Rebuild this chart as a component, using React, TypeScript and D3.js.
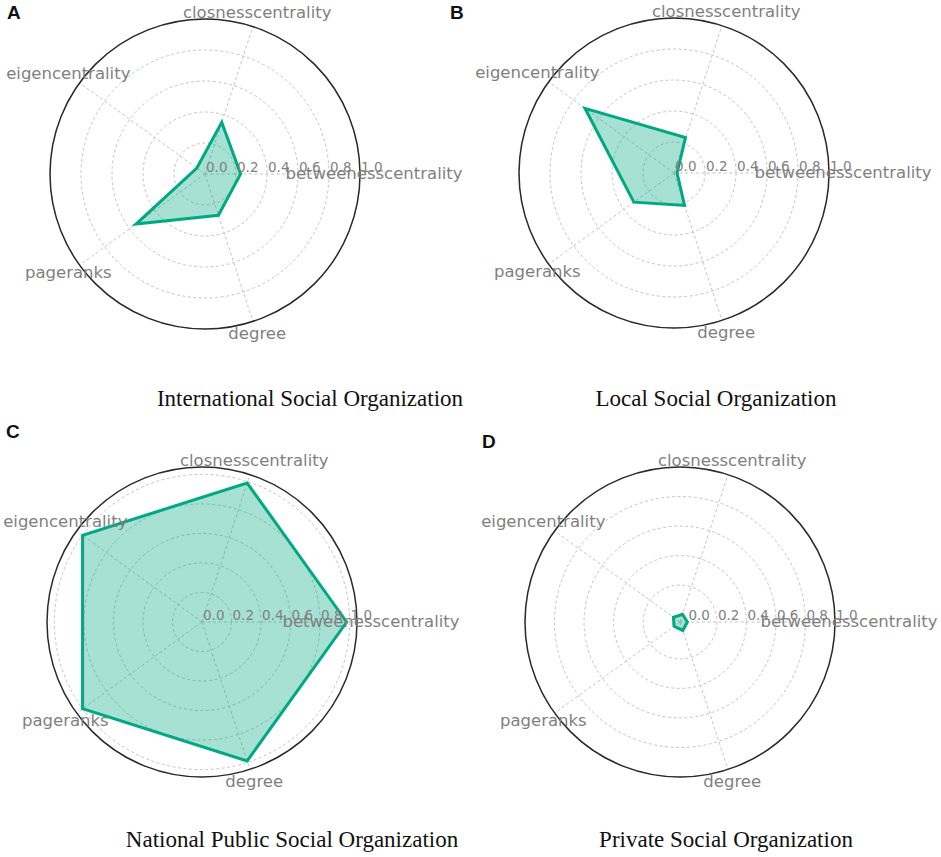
import React, { useEffect, useRef } from "react";
import * as d3 from "d3";

const WIDTH = 941;
const HEIGHT = 857;
const RADIUS = 155;
const LABEL_RADIUS = 169;

const axesNames = [
  "betweenesscentrality",
  "closnesscentrality",
  "eigencentrality",
  "pageranks",
  "degree",
];
const tickValues = [0.0, 0.2, 0.4, 0.6, 0.8, 1.0];

const panelLetters = ["A", "B", "C", "D"];
const panelTitles = [
  "International Social Organization",
  "Local Social Organization",
  "National Public Social Organization",
  "Private Social Organization",
];

// values per axis, in axesNames order
const internationalValues = [0.23, 0.35, 0.065, 0.55, 0.28];
const localValues = [0.02, 0.24, 0.71, 0.32, 0.22];
const nationalPublicValues = [0.98, 0.99, 1.0, 1.0, 0.99];
const privateValues = [0.0, 0.005, 0.005, 0.0, 0.01];

// radial limits matplotlib ended up with in each panel
const radialMin = [0, 0, 0, -0.05];
const radialMax = [1, 1, 1.05, 1];

const panels = [
  { cx: 205, cy: 174, values: internationalValues, letter: [7, 19], title: [310, 406] },
  { cx: 674, cy: 173, values: localValues, letter: [450, 19], title: [716, 406] },
  { cx: 202, cy: 622, values: nationalPublicValues, letter: [6, 438], title: [292, 847] },
  { cx: 680, cy: 622, values: privateValues, letter: [482, 448], title: [726, 847] },
];

const GREEN = "#00a884";
const GREY = "#7f7f7f";
const SANS = "'DejaVu Sans', sans-serif";

const App: React.FC = () => {
  const svgRef = useRef<SVGSVGElement | null>(null);

  useEffect(() => {
    const svg = d3.select(svgRef.current);
    svg.selectAll("*").remove();

    const angle = d3
      .scaleLinear()
      .domain([0, axesNames.length])
      .range([0, 2 * Math.PI]);

    panels.forEach((p, pi) => {
      const r = d3
        .scaleLinear()
        .domain([radialMin[pi], radialMax[pi]])
        .range([0, RADIUS]);

      const g = svg.append("g").attr("transform", `translate(${p.cx},${p.cy})`);

      // rings
      g.selectAll("circle.ring")
        .data(tickValues.filter((t) => t > 0))
        .join("circle")
        .attr("class", "ring")
        .attr("r", (d) => r(d))
        .attr("fill", "none")
        .attr("stroke", "#c4c4c4")
        .attr("stroke-width", 1)
        .attr("stroke-dasharray", "3,2.5");

      // spokes
      g.selectAll("line.spoke")
        .data(axesNames)
        .join("line")
        .attr("class", "spoke")
        .attr("x1", 0)
        .attr("y1", 0)
        .attr("x2", (_, i) => RADIUS * Math.cos(angle(i)))
        .attr("y2", (_, i) => -RADIUS * Math.sin(angle(i)))
        .attr("stroke", "#c4c4c4")
        .attr("stroke-width", 1)
        .attr("stroke-dasharray", "3,2.5");

      // outer frame
      g.append("circle")
        .attr("r", RADIUS)
        .attr("fill", "none")
        .attr("stroke", "#2a2a2a")
        .attr("stroke-width", 1.5);

      // polygon
      const radar = d3
        .lineRadial<number>()
        .angle((_, i) => Math.PI / 2 - angle(i))
        .radius((d) => r(d))
        .curve(d3.curveLinearClosed);

      g.append("path")
        .datum(p.values)
        .attr("d", radar)
        .attr("fill", GREEN)
        .attr("fill-opacity", 0.35)
        .attr("stroke", GREEN)
        .attr("stroke-width", 3)
        .attr("stroke-linejoin", "miter");

      // radial tick labels
      g.selectAll("text.tick")
        .data(tickValues)
        .join("text")
        .attr("class", "tick")
        .attr("x", (d) => r(d) + 1)
        .attr("y", -6)
        .attr("dominant-baseline", "middle")
        .attr("font-family", SANS)
        .attr("font-size", 13.5)
        .attr("fill", GREY)
        .text((d) => d3.format(".1f")(d));

      // axis labels
      g.selectAll("text.axis")
        .data(axesNames)
        .join("text")
        .attr("class", "axis")
        .attr("x", (_, i) => LABEL_RADIUS * Math.cos(angle(i)))
        .attr("y", (_, i) => -LABEL_RADIUS * Math.sin(angle(i)))
        .attr("text-anchor", "middle")
        .attr("dominant-baseline", "middle")
        .attr("font-family", SANS)
        .attr("font-size", 16.5)
        .attr("fill", GREY)
        .text((d) => d);

      svg
        .append("text")
        .attr("x", p.letter[0])
        .attr("y", p.letter[1])
        .attr("font-family", "'Liberation Sans', Arial, sans-serif")
        .attr("font-weight", "bold")
        .attr("font-size", 19)
        .attr("fill", "#111")
        .text(panelLetters[pi]);

      svg
        .append("text")
        .attr("x", p.title[0])
        .attr("y", p.title[1])
        .attr("text-anchor", "middle")
        .attr("font-family", "'Liberation Serif', 'Times New Roman', serif")
        .attr("font-size", 23)
        .attr("fill", "#111")
        .text(panelTitles[pi]);
    });
  }, []);

  return (
    <>
      <style>{`body{margin:0;background:#fff}`}</style>
      <svg ref={svgRef} width={WIDTH} height={HEIGHT} style={{ display: "block" }} />
    </>
  );
};

export default App;
